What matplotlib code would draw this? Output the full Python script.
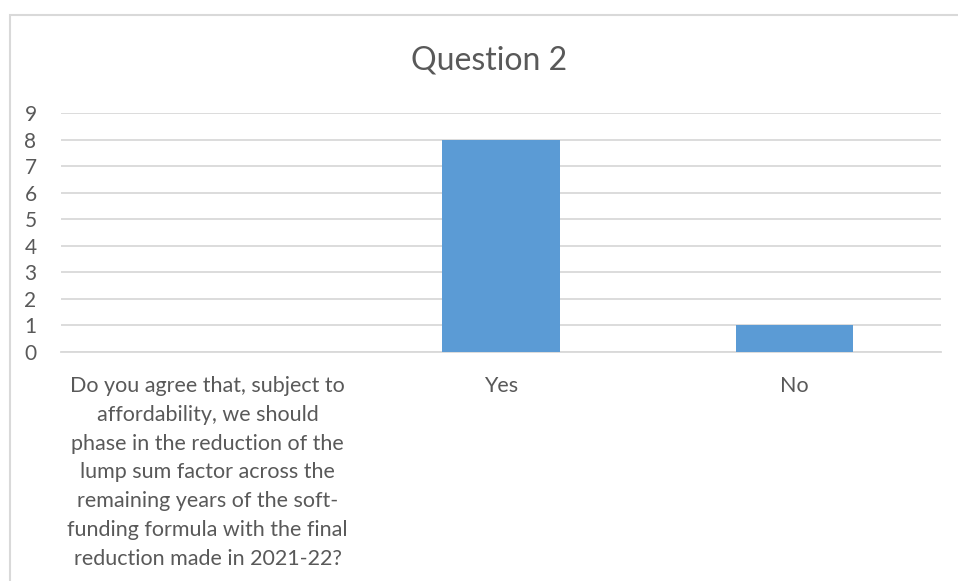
import matplotlib.pyplot as plt
from matplotlib.patches import Rectangle

# Dane
categories = [
    "Do you agree that, subject to\naffordability, we should\nphase in the reduction of the\n"
    "lump sum factor across the\nremaining years of the soft-\nfunding formula with the final\n"
    "reduction made in 2021-22?",
    "Yes",
    "No",
]
counts = [0, 8, 1]
y_ticks = list(range(0, 10))

text_color = "#595959"
grid_color = "#D9D9D9"
bar_color = "#5B9BD5"

plt.rcParams['font.family'] = ['Lato', 'DejaVu Sans']

fig = plt.figure(figsize=(9.58, 5.81), dpi=100)
ax = fig.add_axes([61 / 958, 1 - 352 / 581, 880 / 958, (352 - 113) / 581])

x = range(len(categories))
ax.bar(x, counts, width=0.4, color=bar_color, zorder=3)

ax.set_xlim(-0.5, len(categories) - 0.5)
ax.set_ylim(0, 9)
ax.set_yticks(y_ticks)
ax.set_xticks(list(x))
ax.set_xticklabels(categories, fontsize=15.5, color=text_color, linespacing=1.56)
ax.tick_params(axis='y', labelsize=15, labelcolor=text_color, length=0, pad=22)
ax.tick_params(axis='x', length=0, pad=17)
for lbl in ax.get_yticklabels():
    lbl.set_horizontalalignment('center')

ax.grid(axis='y', color=grid_color, linewidth=1.3, zorder=0)
for side in ['top', 'right', 'left']:
    ax.spines[side].set_visible(False)
ax.spines['bottom'].set_color(grid_color)
ax.spines['bottom'].set_linewidth(1.3)

fig.text(489 / 958, 1 - 60 / 581, "Question 2", ha='center', va='center',
         fontsize=23, color=text_color)

# Ramka wykresu
fig.patches.append(Rectangle((9.5 / 958, -0.2), 1.1, 1 - 14.5 / 581 + 0.2,
                             transform=fig.transFigure, fill=False,
                             edgecolor=grid_color, linewidth=1.5))

fig.savefig("out.png", dpi=100)
